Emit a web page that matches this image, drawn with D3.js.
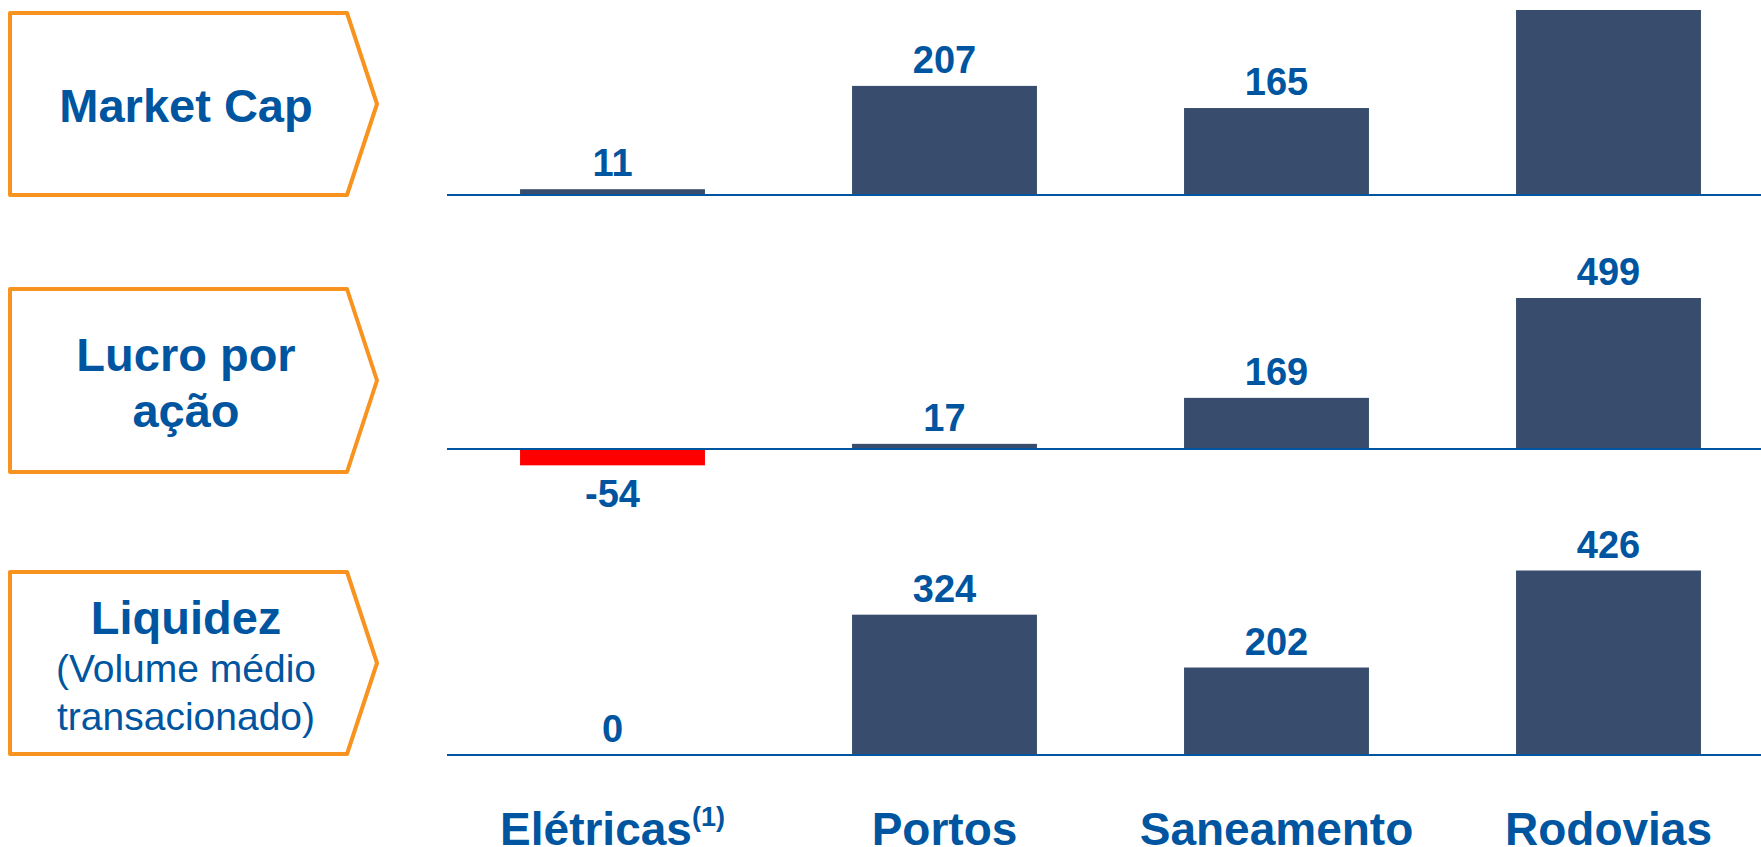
<!DOCTYPE html>
<html>
<head>
<meta charset="utf-8">
<script src="https://cdn.jsdelivr.net/npm/d3@7"></script>
<style>
  html, body { margin: 0; padding: 0; background: #fff; }
  svg { display: block; font-family: Arial, "Liberation Sans", sans-serif; }
</style>
</head>
<body>
<svg id="chart" width="1761" height="847"></svg>
<script>
// ---- data ----
const categories = ["Elétricas", "Portos", "Saneamento", "Rodovias"];
const categoryNotes = ["(1)", "", "", ""];
const marketCap = [11, 207, 165, 351];
const lucroPorAcao = [-54, 17, 169, 499];
const liquidez = [0, 324, 202, 426];
const panelTitles = [["Market Cap"], ["Lucro por", "ação"], ["Liquidez"]];
const panelSubtitles = [[], [], ["(Volume médio", "transacionado)"]];

// ---- styles ----
const BLUE = "#0055A0";
const BAR = "#384D6D";
const NEG = "#FF0000";
const ORANGE = "#F7931E";

const svg = d3.select("#chart");

const x = d3.scaleBand()
  .domain(categories)
  .range([447, 1774])
  .paddingInner(0.443)
  .paddingOuter(0.22);

const panels = [
  { values: marketCap, base: 195, top: 10, boxTop: 13, boxBottom: 195, titleBase: 122, subBase: null },
  { values: lucroPorAcao, base: 449, top: 298, boxTop: 289, boxBottom: 472, titleBase: 371, subBase: null },
  { values: liquidez, base: 755, top: 570.5, boxTop: 572, boxBottom: 754, titleBase: 634, subBase: 682 }
];

panels.forEach((p, i) => {
  const maxV = d3.max(p.values);
  const y = d3.scaleLinear().domain([0, maxV]).range([p.base, p.top]);
  const g = svg.append("g");

  // label box (pentagon arrow)
  const bx0 = 10, bx1 = 347, btip = 377;
  const ymid = (p.boxTop + p.boxBottom) / 2;
  g.append("path")
    .attr("d", `M${bx0},${p.boxTop} L${bx1},${p.boxTop} L${btip},${ymid} L${bx1},${p.boxBottom} L${bx0},${p.boxBottom} Z`)
    .attr("fill", "#fff")
    .attr("stroke", ORANGE)
    .attr("stroke-width", 4)
    .attr("stroke-linejoin", "round");

  panelTitles[i].forEach((t, k) => {
    g.append("text")
      .attr("x", 186)
      .attr("y", p.titleBase + k * 56)
      .attr("text-anchor", "middle")
      .attr("font-size", 47)
      .attr("font-weight", "bold")
      .attr("fill", BLUE)
      .text(t);
  });
  panelSubtitles[i].forEach((t, k) => {
    g.append("text")
      .attr("x", 186)
      .attr("y", p.subBase + k * 48)
      .attr("text-anchor", "middle")
      .attr("font-size", 39)
      .attr("fill", BLUE)
      .text(t);
  });

  // bars
  g.selectAll("rect.bar")
    .data(p.values)
    .join("rect")
    .attr("class", "bar")
    .attr("x", (d, j) => x(categories[j]))
    .attr("width", x.bandwidth())
    .attr("y", d => Math.min(y(d), y(0)))
    .attr("height", d => Math.abs(y(d) - y(0)))
    .attr("fill", d => d < 0 ? NEG : BAR);

  // value labels (those that would fall above the slide are not visible in the source)
  const labelY = d => d < 0 ? y(d) + 42 : y(d) - 13;
  g.selectAll("text.val")
    .data(p.values.map((v, j) => ({ v, j })).filter(o => labelY(o.v) - 28 > 0))
    .join("text")
    .attr("class", "val")
    .attr("x", o => x(categories[o.j]) + x.bandwidth() / 2)
    .attr("y", o => labelY(o.v))
    .attr("text-anchor", "middle")
    .attr("font-size", 38)
    .attr("font-weight", "bold")
    .attr("fill", BLUE)
    .text(o => String(o.v));

  // baseline
  g.append("line")
    .attr("x1", 447).attr("x2", 1761)
    .attr("y1", y(0)).attr("y2", y(0))
    .attr("stroke", BLUE)
    .attr("stroke-width", 2);
});

// category labels
const cat = svg.append("g")
  .selectAll("text")
  .data(categories)
  .join("text")
  .attr("x", d => x(d) + x.bandwidth() / 2)
  .attr("y", 845)
  .attr("text-anchor", "middle")
  .attr("font-size", 46)
  .attr("font-weight", "bold")
  .attr("fill", BLUE);
cat.append("tspan").text(d => d);
cat.filter((d, j) => categoryNotes[j] !== "")
  .append("tspan")
  .attr("font-size", 27)
  .attr("dy", -19)
  .text((d) => categoryNotes[categories.indexOf(d)]);
</script>
</body>
</html>
